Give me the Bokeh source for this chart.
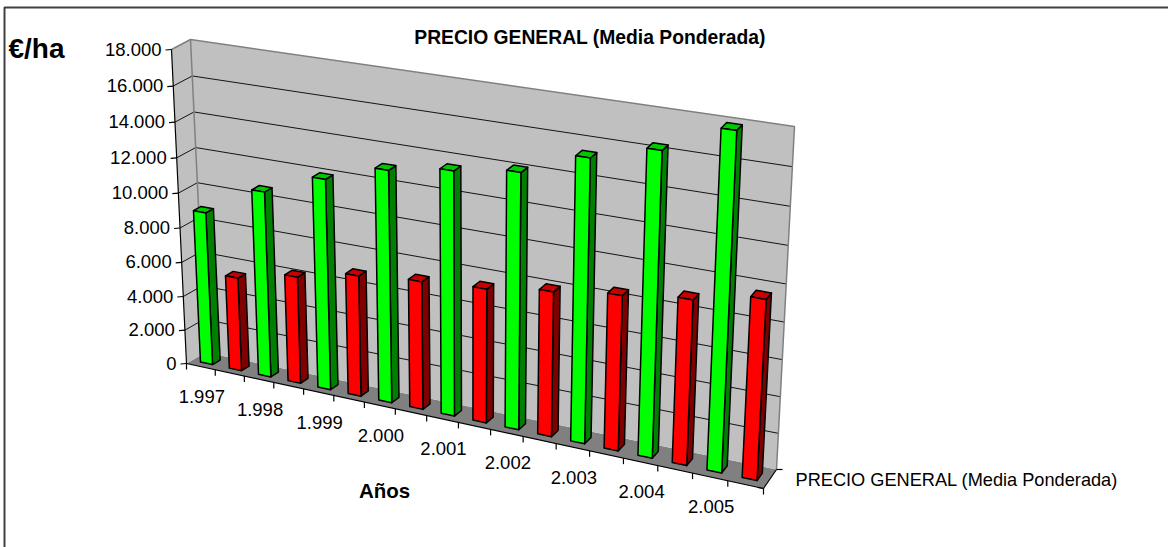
import numpy as np
from bokeh.plotting import figure
from bokeh.models import Range1d
from bokeh.core.properties import value
from bokeh.embed import file_html
from bokeh.resources import INLINE

# ---- data
years = ["1.997", "1.998", "1.999", "2.000", "2.001", "2.002", "2.003", "2.004", "2.005"]
green_values = [8905, 10690, 11985, 13065, 13615, 14115, 15450, 16400, 17960]
red_values = [5460, 6180, 6915, 7260, 7525, 8050, 8530, 8990, 9700]
y_ticks = [0, 2000, 4000, 6000, 8000, 10000, 12000, 14000, 16000, 18000]
y_tick_labels = ["0", "2.000", "4.000", "6.000", "8.000", "10.000", "12.000", "14.000", "16.000", "18.000"]
title = "PRECIO GENERAL (Media Ponderada)"
x_title = "Años"
y_title = "€/ha"
series_label = "PRECIO GENERAL (Media Ponderada)"
y_max = 18000

W, H = 1168, 547
FONT = value("Liberation Sans")

# ---- projection of the 3-D box onto the page
FRONT = [(186, 363), (763, 488), (781, 141), (171, 49)]   # (u,v) = (0,0),(1,0),(1,1),(0,1)
BACK = [(205, 352), (776, 469), (794, 126), (190, 39)]


def homography(q):
    src = [(0, 0), (1, 0), (1, 1), (0, 1)]
    A, b = [], []
    for (u, v), (x, y) in zip(src, q):
        A.append([u, v, 1, 0, 0, 0, -u * x, -v * x]); b.append(x)
        A.append([0, 0, 0, u, v, 1, -u * y, -v * y]); b.append(y)
    h = np.linalg.solve(np.array(A, float), np.array(b, float))
    return np.append(h, 1).reshape(3, 3)


HF, HB = homography(FRONT), homography(BACK)


def apply(m, u, v):
    a = m @ np.array([u, v, 1.0])
    return a[:2] / a[2]


def P(u, val, d):
    """category fraction u, value val, depth d (0 front, 1 back)."""
    v = val / y_max
    return (1 - d) * apply(HF, u, v) + d * apply(HB, u, v)


def poly(pts):
    return [float(a[0]) for a in pts], [float(a[1]) for a in pts]


p = figure(width=W, height=H, x_range=Range1d(0, W), y_range=Range1d(H, 0),
           x_axis_type=None, y_axis_type=None, toolbar_location=None,
           output_backend="svg", min_border=0, outline_line_color=None)
p.grid.visible = False
p.styles = {"position": "absolute", "left": "0px", "top": "0px"}

# outer frame (left and top only are visible)
p.line([4, 4, W], [H, 7, 7], line_color="#404040", line_width=2)

# walls and floor
for q, col in [([P(0, 0, 0), P(1, 0, 0), P(1, 0, 1), P(0, 0, 1)], "#808080"),
               ([P(0, 0, 0), P(0, y_max, 0), P(0, y_max, 1), P(0, 0, 1)], "#C0C0C0"),
               ([P(0, 0, 1), P(1, 0, 1), P(1, y_max, 1), P(0, y_max, 1)], "#C0C0C0")]:
    xs, ys = poly(q)
    p.patch(xs, ys, fill_color=col, line_color=None)

# grid lines
gx, gy = [], []
for t in y_ticks:
    if t in (0, y_max):
        continue
    xs, ys = poly([P(0, t, 0), P(0, t, 1), P(1, t, 1)])
    gx.append(xs); gy.append(ys)
p.multi_line(gx, gy, line_color="#000000", line_width=1, line_alpha=0.9)

# wall edges
ex, ey = [], []
for q in ([P(0, 0, 1), P(0, y_max, 1)],
          [P(0, y_max, 0), P(0, y_max, 1), P(1, y_max, 1), P(1, 0, 1)]):
    xs, ys = poly(q); ex.append(xs); ey.append(ys)
p.multi_line(ex, ey, line_color="#808080", line_width=1.5)

# axis lines and ticks
ax, ay = [], []
for q in ([P(0, y_max, 0), P(0, 0, 0), P(1, 0, 0), P(1, 0, 1)],):
    xs, ys = poly(q); ax.append(xs); ay.append(ys)
for t in y_ticks:
    a = P(0, t, 0)
    ax.append([float(a[0]) - 6, float(a[0])]); ay.append([float(a[1]) + 0.5, float(a[1])])
n_slots = 2 * len(years)
for i in range(n_slots + 1):
    a = P(i / n_slots, 0, 0)
    ax.append([float(a[0]), float(a[0])]); ay.append([float(a[1]), float(a[1]) + 6])
b = P(1, 0, 1)
ax.append([float(b[0]), float(b[0]) + 6]); ay.append([float(b[1]), float(b[1])])
b = P(1, 0, 0)
ax.append([float(b[0]) - 6, float(b[0])]); ay.append([float(b[1]) - 1, float(b[1])])
p.multi_line(ax, ay, line_color="#000000", line_width=1.2)

# bars
D0, D1 = 0.3, 0.7
WID = 0.21
faces = {"fx": [], "fy": [], "c": []}
for i, (gv, rv) in enumerate(zip(green_values, red_values)):
    for k, (val, cols) in enumerate([(gv, ("#00FF00", "#008000", "#00C800")),
                                     (rv, ("#FF0000", "#800000", "#C80000"))]):
        slot = 2 * i + k
        u0 = (slot + 0.5 - WID) / n_slots
        u1 = (slot + 0.5 + WID) / n_slots
        top = [P(u0, val, D0), P(u1, val, D0), P(u1, val, D1), P(u0, val, D1)]
        side = [P(u1, 0, D0), P(u1, val, D0), P(u1, val, D1), P(u1, 0, D1)]
        front = [P(u0, 0, D0), P(u1, 0, D0), P(u1, val, D0), P(u0, val, D0)]
        for q, c in ((side, cols[1]), (top, cols[2]), (front, cols[0])):
            xs, ys = poly(q)
            faces["fx"].append(xs); faces["fy"].append(ys); faces["c"].append(c)
p.patches(faces["fx"], faces["fy"], fill_color=faces["c"], line_color="#000000",
          line_width=1.5, line_join="round")

# tick labels
lx, ly = [], []
for t in y_ticks:
    a = P(0, t, 0)
    lx.append(float(a[0]) - 10); ly.append(float(a[1]) - 0.5)
p.text(lx, ly, text=y_tick_labels, text_font=FONT, text_font_size="18.5px",
       text_align="right", text_baseline="middle", text_color="#000000")
lx, ly = [], []
for i in range(len(years)):
    a = P((2 * i + 0.5) / n_slots, 0, 0)
    lx.append(float(a[0]) + 1); ly.append(float(a[1]) + 30)
p.text(lx, ly, text=years, text_font=FONT, text_font_size="18.5px",
       text_align="center", text_baseline="middle", text_color="#000000")

# titles
p.text([589.5], [37], text=[title], text_font=FONT, text_font_size="19.3px", text_font_style="bold",
       text_align="center", text_baseline="middle", text_color="#000000")
p.text([384], [490], text=[x_title], text_font=FONT, text_font_size="20.5px", text_font_style="bold",
       text_align="center", text_baseline="middle", text_color="#000000")
p.text([8], [48], text=[y_title], text_font=FONT, text_font_size="28px", text_font_style="bold",
       text_align="left", text_baseline="middle", text_color="#000000")
p.text([795], [479], text=[series_label], text_font=FONT, text_font_size="18.2px",
       text_align="left", text_baseline="middle", text_color="#000000")

open("out.html", "w").write(file_html(p, INLINE))
